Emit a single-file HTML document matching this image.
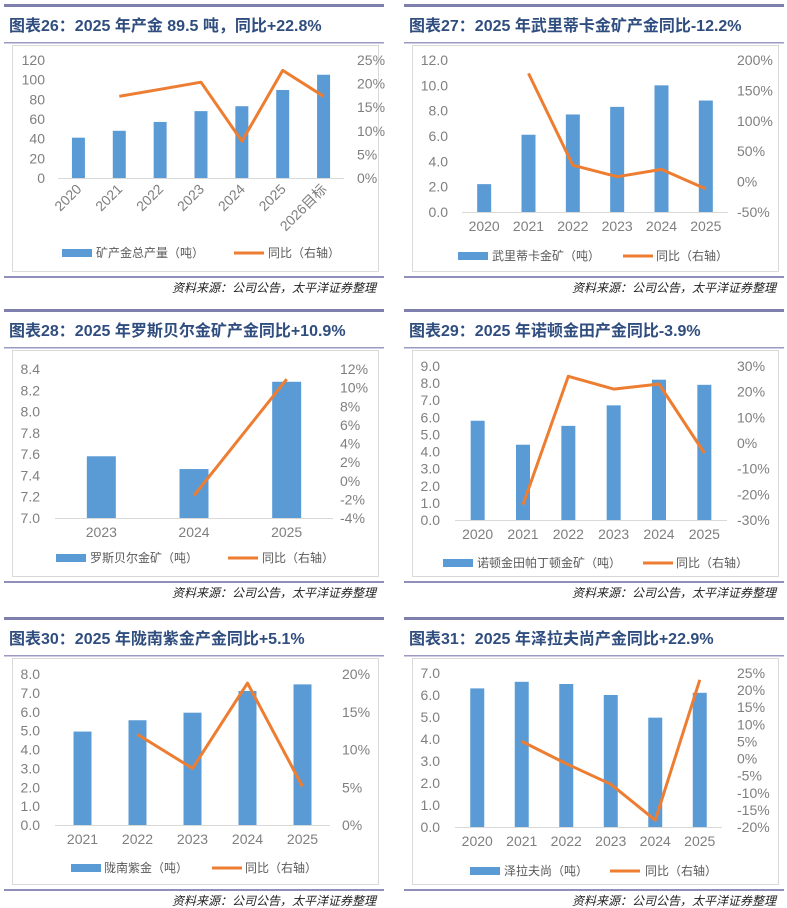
<!DOCTYPE html>
<html><head><meta charset="utf-8">
<style>
html,body{margin:0;padding:0;background:#fff;}
svg{display:block;font-family:"Liberation Sans","Noto Sans CJK SC",sans-serif;}
.t{font-family:"Liberation Sans","Noto Sans CJK SC",sans-serif;font-weight:bold;fill:#2f4d7e;font-size:16px;}
.tk{fill:#7f7f7f;font-size:14px;}
.lg{fill:#595959;font-size:12px;font-family:"Liberation Sans","Noto Sans CJK SC",sans-serif;}
.src{fill:#222;font-size:12px;font-style:italic;font-family:"Liberation Sans","Noto Sans CJK SC",sans-serif;}
</style></head>
<body>
<svg id="c" width="787" height="908"></svg>
<script>
const cats1=["2020","2021","2022","2023","2024","2025","2026目标"];
const bars1=[41,48,57,68,73,89.5,105];
const yoy1=[null,17.3,18.8,20.3,7.8,22.8,17.3];
const cats2=["2020","2021","2022","2023","2024","2025"];
const bars2=[2.2,6.1,7.7,8.3,10.0,8.8];
const yoy2=[null,178,27,8,20,-12];
const cats3=["2023","2024","2025"];
const bars3=[7.58,7.46,8.28];
const yoy3=[null,-1.6,10.9];
const cats4=["2020","2021","2022","2023","2024","2025"];
const bars4=[5.8,4.4,5.5,6.7,8.2,7.9];
const yoy4=[null,-24,26,21,23,-3.9];
const cats5=["2021","2022","2023","2024","2025"];
const bars5=[4.95,5.55,5.95,7.1,7.45];
const yoy5=[null,12,7.5,18.8,5.1];
const cats6=["2020","2021","2022","2023","2024","2025"];
const bars6=[6.3,6.6,6.5,6.0,4.97,6.1];
const yoy6=[null,5,-1.5,-7.5,-18,23];
const leftTicks1=[0,20,40,60,80,100,120], rightTicks1=[0,5,10,15,20,25];
const leftTicks2=[0,2,4,6,8,10,12], rightTicks2=[-50,0,50,100,150,200];
const leftTicks3=[7.0,7.2,7.4,7.6,7.8,8.0,8.2,8.4], rightTicks3=[-4,-2,0,2,4,6,8,10,12];
const leftTicks4=[0,1,2,3,4,5,6,7,8,9], rightTicks4=[-30,-20,-10,0,10,20,30];
const leftTicks5=[0,1,2,3,4,5,6,7,8], rightTicks5=[0,5,10,15,20];
const leftTicks6=[0,1,2,3,4,5,6,7], rightTicks6=[-20,-15,-10,-5,0,5,10,15,20,25];

const NS="http://www.w3.org/2000/svg";
const svg=document.getElementById('c');
function mk(tag,attrs,parent){const e=document.createElementNS(NS,tag);for(const k in attrs)e.setAttribute(k,attrs[k]);(parent||svg).appendChild(e);return e;}
function txt(s,attrs,parent){const e=mk('text',attrs,parent);e.textContent=s;return e;}

const panels=[
 {id:26,title:"图表26：2025 年产金 89.5 吨，同比+22.8%",px:4,py:0,cats:cats1,bars:bars1,yoy:yoy1,lt:leftTicks1,rt:rightTicks1,lmin:0,lmax:120,rmin:0,rmax:25,y0:178,y1:60,xl:58,xr:344,bw:13,lx:45,rx:357,dec:0,rot:true,leg:[62,96,234,268,253],ln:"矿产金总产量（吨）"},
 {id:27,title:"图表27：2025 年武里蒂卡金矿产金同比-12.2%",px:404,py:0,cats:cats2,bars:bars2,yoy:yoy2,lt:leftTicks2,rt:rightTicks2,lmin:0,lmax:12,rmin:-50,rmax:200,y0:212,y1:60,xl:462,xr:728,bw:14,lx:448,rx:737,dec:1,leg:[458,492,623,656,256],ln:"武里蒂卡金矿（吨）"},
 {id:28,title:"图表28：2025 年罗斯贝尔金矿产金同比+10.9%",px:4,py:305,cats:cats3,bars:bars3,yoy:yoy3,lt:leftTicks3,rt:rightTicks3,lmin:7,lmax:8.4,rmin:-4,rmax:12,y0:518,y1:369,xl:55,xr:333,bw:29,lx:40,rx:340,dec:1,leg:[56,90,228,262,558],ln:"罗斯贝尔金矿（吨）"},
 {id:29,title:"图表29：2025 年诺顿金田产金同比-3.9%",px:404,py:305,cats:cats4,bars:bars4,yoy:yoy4,lt:leftTicks4,rt:rightTicks4,lmin:0,lmax:9,rmin:-30,rmax:30,y0:520,y1:366,xl:455,xr:727,bw:14,lx:440,rx:737,dec:1,leg:[443,477,643,676,563],ln:"诺顿金田帕丁顿金矿（吨）"},
 {id:30,title:"图表30：2025 年陇南紫金产金同比+5.1%",px:4,py:613,cats:cats5,bars:bars5,yoy:yoy5,lt:leftTicks5,rt:rightTicks5,lmin:0,lmax:8,rmin:0,rmax:20,y0:825,y1:674,xl:55,xr:330,bw:18,lx:40,rx:342,dec:1,leg:[71,104,212,245,868],ln:"陇南紫金（吨）"},
 {id:31,title:"图表31：2025 年泽拉夫尚产金同比+22.9%",px:404,py:613,cats:cats6,bars:bars6,yoy:yoy6,lt:leftTicks6,rt:rightTicks6,lmin:0,lmax:7,rmin:-20,rmax:25,y0:827,y1:673,xl:455,xr:722,bw:14,lx:440,rx:737,dec:1,leg:[470,504,610,645,871],ln:"泽拉夫尚（吨）"}
];

panels.forEach(p=>{
 const g=mk('g',{});
 
 
 const W=380;
 mk('rect',{x:p.px,y:p.py+4,width:W,height:3,fill:'#7f7fad'},g);
 const t=txt(p.title,{x:p.px+5,y:p.py+31,class:'t'},g);
 
 
 mk('rect',{x:p.px,y:p.py+42,width:W,height:1.5,fill:'#9a9ac4'},g);
 const box=mk('rect',{x:p.px+8.5,y:p.py+45.5,width:W-14,height:226,fill:'none',stroke:'#d9d9d9'},g);
 
 
 mk('rect',{x:p.px,y:p.py+276,width:W,height:2,fill:'#8f8fbb'},g);
 const s=txt("资料来源：公司公告，太平洋证券整理",{x:p.px+372,y:p.py+292,class:'src','text-anchor':'end'},g);
 
 
 const yl=v=>p.y0-(v-p.lmin)/(p.lmax-p.lmin)*(p.y0-p.y1);
 const yr=v=>p.y0-(v-p.rmin)/(p.rmax-p.rmin)*(p.y0-p.y1);
 const n=p.cats.length, slot=(p.xr-p.xl)/n;
 const xc=i=>p.xl+slot*(i+0.5);
 p.lt.forEach(v=>{const e=txt(v.toFixed(p.dec),{x:p.lx,y:yl(v)+5,class:'tk','text-anchor':'end'},g);
  });
 p.rt.forEach(v=>{const e=txt(v+'%',{x:p.rx,y:yr(v)+5,class:'tk'},g);
  });
 p.bars.forEach((v,i)=>{const r=mk('rect',{x:xc(i)-p.bw/2,y:yl(v),width:p.bw,height:p.y0-yl(v),fill:'#5b9bd5'},g);
  });
 mk('line',{x1:p.xl,x2:p.xr,y1:p.y0+0.5,y2:p.y0+0.5,stroke:'#d9d9d9'},g);
 p.cats.forEach((c,i)=>{
  let e;
  if(p.rot){e=txt(c,{x:xc(i)+4,y:p.y0+12,class:'tk','text-anchor':'end',transform:`rotate(-45 ${xc(i)+4} ${p.y0+12})`},g);}
  else e=txt(c,{x:xc(i),y:p.y0+19,class:'tk','text-anchor':'middle'},g);
  
 });
 let d='';p.yoy.forEach((v,i)=>{if(v==null)return;d+=(d?'L':'M')+xc(i).toFixed(1)+','+yr(v).toFixed(1);});
 const l=mk('path',{d:d,fill:'none',stroke:'#ed7d31','stroke-width':3,'stroke-linejoin':'round'},g);
 
 const L=p.leg, ly=L[4];
 const lg=mk('g',{},g);
 
 mk('rect',{x:L[0],y:ly-4,width:30,height:8,fill:'#5b9bd5'},lg);
 txt(p.ln,{x:L[1],y:ly+4,class:'lg'},lg);
 mk('line',{x1:L[2],x2:L[2]+30,y1:ly,y2:ly,stroke:'#ed7d31','stroke-width':3},lg);
 txt("同比（右轴）",{x:L[3],y:ly+4,class:'lg'},lg);
});
</script>
</body></html>
